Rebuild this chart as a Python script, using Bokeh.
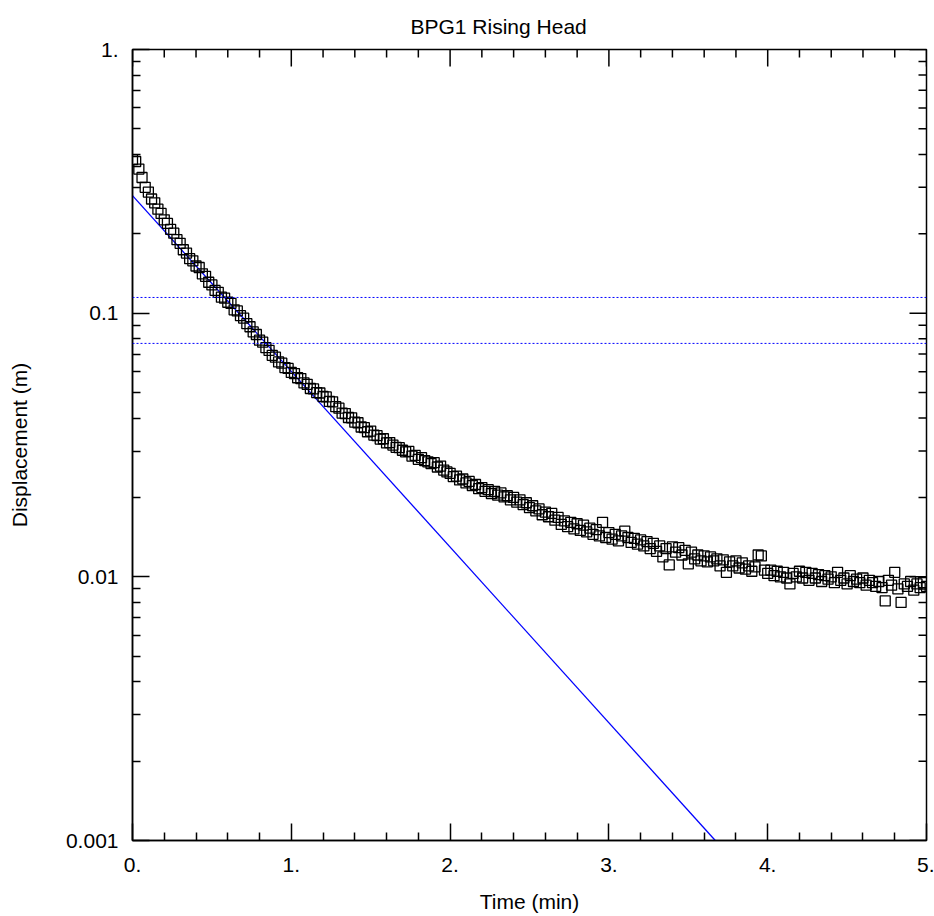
import math
from bokeh.plotting import figure
from bokeh.models import FixedTicker, Span, Title, Range1d
from bokeh.embed import file_html
from bokeh.resources import INLINE

# ---- data ----
time_step = 0.02  # min between samples
displacement = [
    0.382, 0.376, 0.352, 0.327, 0.300, 0.288, 0.271, 0.262, 0.248, 0.239,
    0.226, 0.219, 0.208, 0.201, 0.190, 0.184, 0.174, 0.169, 0.161, 0.158,
    0.151, 0.149, 0.141, 0.138, 0.131, 0.128, 0.122, 0.120, 0.115, 0.114,
    0.110, 0.109, 0.103, 0.102, 0.0978, 0.0958, 0.0912, 0.0888, 0.0849, 0.0830,
    0.0790, 0.0776, 0.0740, 0.0722, 0.0692, 0.0681, 0.0653, 0.0646, 0.0622, 0.0617,
    0.0596, 0.0590, 0.0569, 0.0565, 0.0544, 0.0537, 0.0518, 0.0516, 0.0500, 0.0498,
    0.0483, 0.0481, 0.0463, 0.0461, 0.0442, 0.0436, 0.0418, 0.0416, 0.0402, 0.0401,
    0.0386, 0.0384, 0.0370, 0.0368, 0.0355, 0.0357, 0.0345, 0.0343, 0.0333, 0.0334,
    0.0322, 0.0323, 0.0316, 0.0310, 0.0309, 0.0302, 0.0298, 0.0299, 0.0287, 0.0289,
    0.0279, 0.0283, 0.0276, 0.0273, 0.0269, 0.0271, 0.0261, 0.0263, 0.0254, 0.0250,
    0.0247, 0.0240, 0.0241, 0.0233, 0.0235, 0.0227, 0.0230, 0.0222, 0.0224, 0.0216,
    0.0218, 0.0211, 0.0214, 0.0207, 0.0211, 0.0204, 0.0208, 0.0201, 0.0203, 0.0196,
    0.0200, 0.0192, 0.0196, 0.0188, 0.0191, 0.0183, 0.0186, 0.0178, 0.0181, 0.0172,
    0.0176, 0.0169, 0.0174, 0.0164, 0.0168, 0.0158, 0.0163, 0.0155, 0.0161, 0.0152,
    0.0159, 0.0150, 0.0157, 0.0148, 0.0153, 0.0145, 0.0151, 0.0143, 0.0161, 0.0141,
    0.0147, 0.0139, 0.0145, 0.0137, 0.0143, 0.0149, 0.0141, 0.0135, 0.0140, 0.0133,
    0.0138, 0.0131, 0.0136, 0.0128, 0.0134, 0.0125, 0.0131, 0.0119, 0.0128, 0.0111,
    0.0130, 0.0124, 0.0129, 0.0121, 0.0126, 0.0112, 0.0124, 0.0117, 0.0121, 0.0115,
    0.0120, 0.0114, 0.0119, 0.0115, 0.0117, 0.0110, 0.0116, 0.0104, 0.0114, 0.0110,
    0.0115, 0.0108, 0.0113, 0.0107, 0.0110, 0.0105, 0.0109, 0.0121, 0.0120, 0.0106,
    0.0103, 0.0106, 0.0101, 0.0105, 0.0100, 0.0104, 0.0099, 0.0094, 0.0103, 0.0100,
    0.0105, 0.0099, 0.0104, 0.0097, 0.0103, 0.0099, 0.0102, 0.0096, 0.0101, 0.0098,
    0.0100, 0.0095, 0.0104, 0.0097, 0.0099, 0.0094, 0.0101, 0.0096, 0.0098, 0.0095,
    0.0099, 0.0093, 0.0097, 0.0095, 0.0092, 0.0096, 0.0091, 0.0081, 0.0097, 0.0093,
    0.0104, 0.0090, 0.0080, 0.0094, 0.0092, 0.0096, 0.0089, 0.0094, 0.0091, 0.0095,
    0.0092,
]
times = [round(i * time_step, 4) for i in range(len(displacement))]

fit_time = [0.0, 3.67]
fit_disp = [0.279, 0.001]

ref_levels = [0.1147, 0.0768]

x_major = [0, 1, 2, 3, 4, 5]
x_labels = ["0.", "1.", "2.", "3.", "4.", "5."]
x_minor = [round(0.2 * i, 2) for i in range(26) if i % 5 != 0]
y_major = [0.001, 0.01, 0.1, 1]
y_labels = ["0.001", "0.01", "0.1", "1."]
y_minor = [m * d for d in (0.001, 0.01, 0.1) for m in range(2, 10)]

title_text = "BPG1 Rising Head"

X_MIN, X_MAX = 0, 5
Y_MIN, Y_MAX = 0.001, 1

FONT = "Liberation Sans"
FS = "21px"
MAJOR_LEN = 17
MINOR_LEN = 8

p = figure(width=934, height=916, x_range=Range1d(X_MIN, X_MAX), y_range=Range1d(Y_MIN, Y_MAX),
           y_axis_type="log", output_backend="svg", toolbar_location=None,
           min_border_left=132, min_border_right=8, min_border_top=48, min_border_bottom=76)
p.xgrid.visible = False
p.ygrid.visible = False
p.outline_line_color = "black"
p.outline_line_width = 1.5
p.background_fill_color = "white"
p.border_fill_color = "white"

def style_axis(ax):
    ax.axis_line_color = "black"
    ax.axis_line_width = 1.5
    ax.major_tick_line_color = "black"
    ax.minor_tick_line_color = "black"
    ax.major_tick_line_width = 1.5
    ax.minor_tick_line_width = 1.5
    ax.major_tick_in = MAJOR_LEN
    ax.major_tick_out = 0
    ax.minor_tick_in = MINOR_LEN
    ax.minor_tick_out = 0
    ax.major_label_text_font = FONT
    ax.major_label_text_font_size = FS
    ax.major_label_text_color = "black"
    ax.axis_label_text_font = FONT
    ax.axis_label_text_font_size = FS
    ax.axis_label_text_font_style = "normal"
    ax.axis_label_text_color = "black"

xa = p.xaxis[0]
xa.ticker = FixedTicker(ticks=x_major, minor_ticks=x_minor)
xa.major_label_overrides = {k: v for k, v in zip(x_major, x_labels)}
xa.axis_label = "Time (min)"
xa.major_label_standoff = 17
xa.axis_label_standoff = 15
style_axis(xa)

ya = p.yaxis[0]
ya.ticker = FixedTicker(ticks=y_major, minor_ticks=y_minor)
ya.major_label_overrides = {k: v for k, v in zip(y_major, y_labels)}
ya.axis_label = "Displacement (m)"
ya.major_label_standoff = 14
ya.axis_label_standoff = 32
style_axis(ya)

# inward tick marks on the top and right frame edges (half of each dash is clipped by the frame)
p.scatter(x_major, [Y_MAX] * len(x_major), marker="dash", angle=math.pi / 2,
          size=2 * MAJOR_LEN, line_color="black", line_width=1.5)
p.scatter(x_minor, [Y_MAX] * len(x_minor), marker="dash", angle=math.pi / 2,
          size=2 * MINOR_LEN, line_color="black", line_width=1.5)
p.scatter([X_MAX] * len(y_major), y_major, marker="dash",
          size=2 * MAJOR_LEN, line_color="black", line_width=1.5)
p.scatter([X_MAX] * len(y_minor), y_minor, marker="dash",
          size=2 * MINOR_LEN, line_color="black", line_width=1.5)

p.add_layout(Title(text=title_text, text_font=FONT, text_font_size=FS,
                   text_font_style="normal", text_color="black", align="left", offset=278,
                   standoff=24), "above")

for lvl in ref_levels:
    p.add_layout(Span(location=lvl, dimension="width", line_color="#0000ff",
                      line_width=1, line_dash="2 2"))

p.line(fit_time, fit_disp, line_color="#0000ff", line_width=1.3)
p.scatter(times, displacement, marker="square", size=10, fill_color=None,
          line_color="black", line_width=1.3)

open("out.html", "w").write(file_html(p, INLINE))
